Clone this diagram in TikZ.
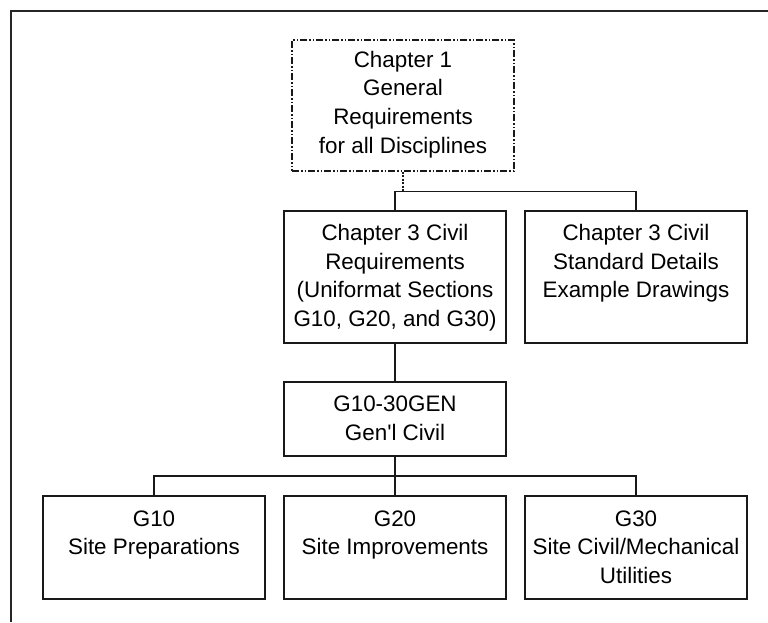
\documentclass[tikz,border=0pt]{standalone}
\usepackage{fontspec}
\setmainfont{Liberation Sans}[Ligatures=TeXOff]
\newcommand{\bxt}[3]{\parbox[c][#1][t]{222pt}{\centering\rule{0pt}{#2}#3\par}}
\begin{document}
\begin{tikzpicture}[x=1pt,y=-1pt,
  font=\fontsize{22.4pt}{28.7pt}\selectfont,
  box/.style={draw=black!90,line width=1.2pt,inner sep=0pt,fill=white},
  topbox/.style={box,dash pattern=on 7pt off 2pt on 1.5pt off 2pt on 1.5pt off 2pt},
  conn/.style={draw=black!90,line width=1.2pt},
  dotconn/.style={conn,dash pattern=on 2pt off 1.5pt},
  frame/.style={draw=black!85,line width=1.6pt}]
\useasboundingbox (0,0) rectangle (768,622);
\draw[frame] (768,10.8) -- (11.2,10.8) -- (11.2,622);
\node[topbox] (top) at (403,105.5) {\bxt{131pt}{27pt}{Chapter 1\\General\\Requirements\\for all Disciplines}};
\node[box] (civ) at (395,277) {\bxt{132pt}{29.3pt}{Chapter 3 Civil\\Requirements\\(Uniformat Sections\\G10, G20, and G30)}};
\node[box] (std) at (636,277) {\bxt{132pt}{29.3pt}{Chapter 3 Civil\\Standard Details\\Example Drawings}};
\node[box] (gen) at (395,419) {\bxt{74pt}{29.7pt}{G10-30GEN\\Gen'l Civil}};
\node[box] (g10) at (154,547.5) {\bxt{103pt}{30pt}{G10\\Site Preparations}};
\node[box] (g20) at (395,547.5) {\bxt{103pt}{30pt}{G20\\Site Improvements}};
\node[box] (g30) at (636,547.5) {\bxt{103pt}{30pt}{G30\\Site Civil/Mechanical\\Utilities}};
\coordinate (j1) at (403,191.5);
\coordinate (j2) at (395,476);
\draw[dotconn] (top.south) -- (j1);
\draw[conn] (civ.north) |- (j1) -| (std.north);
\draw[conn] (civ.south) -- (gen.north);
\draw[conn] (gen.south) -- (g20.north);
\draw[conn] (g10.north) |- (j2) -| (g30.north);
\end{tikzpicture}
\end{document}
